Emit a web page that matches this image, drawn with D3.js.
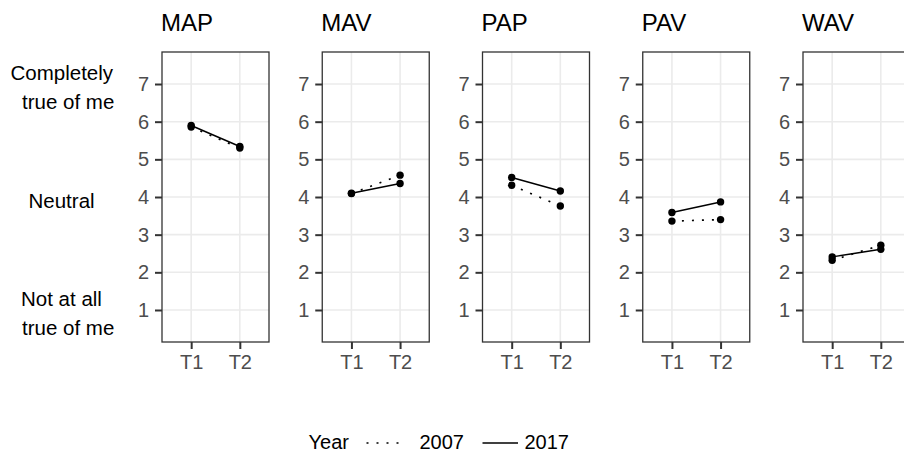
<!DOCTYPE html>
<html>
<head>
<meta charset="utf-8">
<title>scale by year</title>
<script src="https://cdn.jsdelivr.net/npm/d3@7"></script>
<style>
body { margin: 0; background: #fff; }
text { font-family: "Liberation Sans", Arial, sans-serif; }
</style>
</head>
<body>
<svg width="904" height="452"></svg>
<script>

// data
var scales = ["MAP", "MAV", "PAP", "PAV", "WAV"];
var times = ["T1", "T2"];
var years = ["2007", "2017"];
var v2007 = [[5.86, 5.30], [4.09, 4.58], [4.31, 3.76], [3.36, 3.40], [2.32, 2.72]];
var v2017 = [[5.90, 5.34], [4.10, 4.36], [4.52, 4.16], [3.59, 3.87], [2.41, 2.61]];
var yTicks = [1, 2, 3, 4, 5, 6, 7];
var anchorLabels = [
  { v: 7, lines: ["Completely", "true of me"], x: [10.5, 22] },
  { v: 4, lines: ["Neutral"], x: [28.5] },
  { v: 1, lines: ["Not at all", "true of me"], x: [21, 22] }
];

var svg = d3.select("svg");

// "top" is taken by window.top, so panel edges get other names
var panelW = 107, pTop = 52, pBot = 342;
var panelX = d3.scalePoint().domain(scales).range([162, 803]);

var y = d3.scaleLinear().domain([0.15, 7.85]).range([pBot, pTop]);
var x = d3.scalePoint().domain(times).range([0, panelW]).padding(0.6);

var line = d3.line()
  .x(function(d, i) { return x(times[i]); })
  .y(function(d) { return y(d); });

scales.forEach(function(s, k) {
  var g = svg.append("g").attr("transform", "translate(" + panelX(s) + ",0)");

  g.append("rect")
    .attr("x", 0).attr("y", pTop)
    .attr("width", panelW).attr("height", pBot - pTop)
    .attr("fill", "#fff");

  g.selectAll(".hg").data(yTicks).enter().append("line")
    .attr("x1", 0).attr("x2", panelW)
    .attr("y1", function(d) { return y(d); })
    .attr("y2", function(d) { return y(d); })
    .attr("stroke", "#ebebeb").attr("stroke-width", 1.6);

  g.selectAll(".vg").data(times).enter().append("line")
    .attr("y1", pTop).attr("y2", pBot)
    .attr("x1", function(d) { return x(d); })
    .attr("x2", function(d) { return x(d); })
    .attr("stroke", "#ebebeb").attr("stroke-width", 1.6);

  g.append("path").datum(v2007[k])
    .attr("d", line)
    .attr("fill", "none").attr("stroke", "#000")
    .attr("stroke-width", 1.7).attr("stroke-dasharray", "2,8");

  g.append("path").datum(v2017[k])
    .attr("d", line)
    .attr("fill", "none").attr("stroke", "#000")
    .attr("stroke-width", 1.5);

  [v2007[k], v2017[k]].forEach(function(vals) {
    g.selectAll(null).data(vals).enter().append("circle")
      .attr("cx", function(d, i) { return x(times[i]); })
      .attr("cy", function(d) { return y(d); })
      .attr("r", 3.7).attr("fill", "#000");
  });

  g.append("rect")
    .attr("x", 0).attr("y", pTop)
    .attr("width", panelW).attr("height", pBot - pTop)
    .attr("fill", "none").attr("stroke", "#333").attr("stroke-width", 1.3);

  var ya = g.append("g").call(d3.axisLeft(y).tickValues(yTicks).tickSize(7).tickPadding(6));
  var xa = g.append("g").attr("transform", "translate(0," + pBot + ")")
    .call(d3.axisBottom(x).tickSize(7).tickPadding(6));
  [ya, xa].forEach(function(a) {
    a.select(".domain").remove();
    a.selectAll(".tick line").attr("stroke", "#333").attr("stroke-width", 2);
    a.selectAll(".tick text")
      .attr("fill", "#4d4d4d")
      .style("font-size", "20px")
      .style("font-family", "'Liberation Sans', Arial, sans-serif");
  });

  g.append("text")
    .attr("x", -1).attr("y", 30.7)
    .attr("font-size", 24).attr("fill", "#000")
    .text(s);
});

// left anchor labels
anchorLabels.forEach(function(a) {
  var n = a.lines.length;
  a.lines.forEach(function(t, i) {
    var off = n === 1 ? 10.5 : (i === 0 ? -3.7 : 24.8);
    svg.append("text")
      .attr("x", a.x[i]).attr("y", y(a.v) + off)
      .attr("font-size", 20.5).attr("fill", "#000")
      .text(t);
  });
});

// legend
var lg = svg.append("g");
lg.append("text").attr("x", 308.5).attr("y", 448.7).attr("font-size", 20).text("Year");
lg.append("line").attr("x1", 366.5).attr("x2", 402).attr("y1", 443).attr("y2", 443)
  .attr("stroke", "#000").attr("stroke-width", 1.7).attr("stroke-dasharray", "2,8");
lg.append("text").attr("x", 419.5).attr("y", 448.7).attr("font-size", 20).text(years[0]);
lg.append("line").attr("x1", 482.5).attr("x2", 518).attr("y1", 443).attr("y2", 443)
  .attr("stroke", "#000").attr("stroke-width", 1.5);
lg.append("text").attr("x", 524.5).attr("y", 448.7).attr("font-size", 20).text(years[1]);

</script>
</body>
</html>
